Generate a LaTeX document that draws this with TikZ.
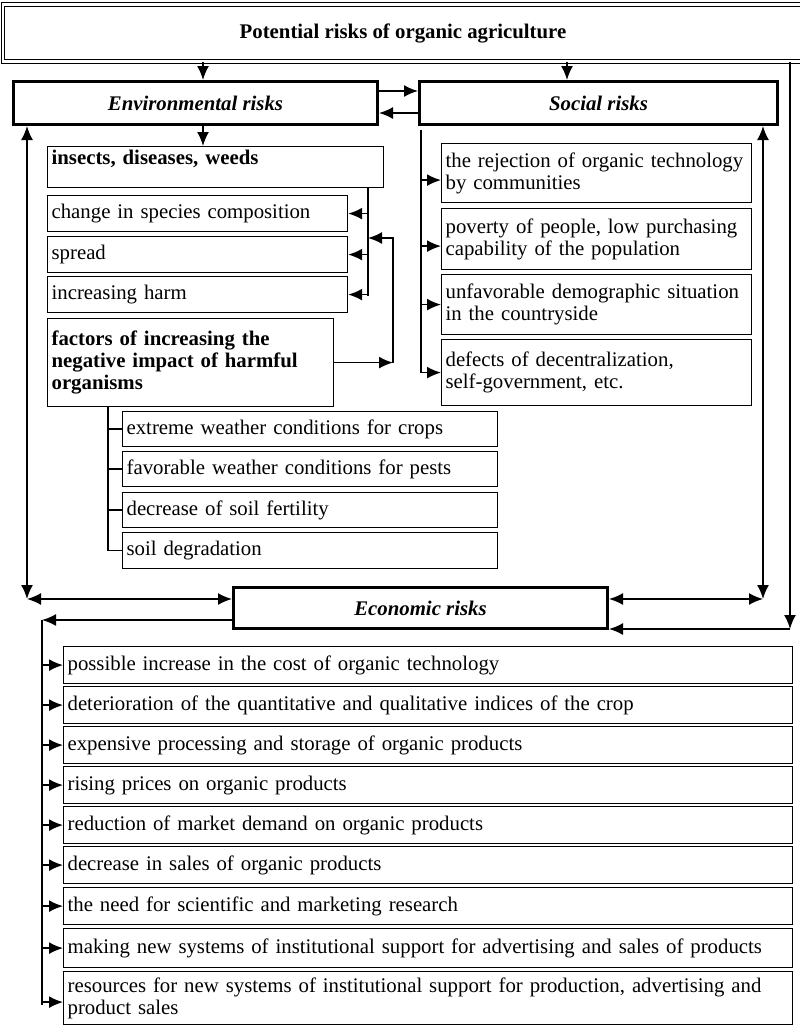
\documentclass[tikz,border=0pt]{standalone}
\usepackage{fontspec}
\setmainfont{Liberation Serif}
\usetikzlibrary{arrows.meta}
\newcommand{\txtsize}{\fontsize{20.8}{22}\selectfont}
\tikzset{
  every node/.style={font=\txtsize},
  topbox/.style={draw, double, double distance=2.5pt, line width=1.2pt, font=\txtsize\bfseries},
  riskbox/.style={draw, line width=3pt, anchor=north west, font=\txtsize\bfseries\itshape},
  item/.style={draw, line width=1.2pt, anchor=north west, inner xsep=4pt, inner ysep=0pt, align=left},
  conn/.style={line width=1.7pt},
  arr/.style={conn, -{Latex[length=14pt,width=12pt]}},
  darr/.style={conn, {Latex[length=14pt,width=12pt]}-{Latex[length=14pt,width=12pt]}}
}

\begin{document}
\begin{tikzpicture}[x=1pt,y=-1pt]
\useasboundingbox (0,0) rectangle (800,1026);
\node[topbox, minimum width=800pt, minimum height=57pt] (top) at (403,33) {Potential risks of organic agriculture};
\node[riskbox, minimum width=364pt, minimum height=43pt] (env) at (12,80) {Environmental risks}; %main risks
\node[riskbox, minimum width=358pt, minimum height=43pt] (soc) at (418,80) {Social risks};
\node[riskbox, minimum width=374pt, minimum height=41pt] (econ) at (232,586) {Economic risks};
\node[item, text width=328pt, text height=15pt, text depth=20pt, inner ysep=3pt, font=\txtsize\bfseries] (ins) at (47,146) {insects, diseases, weeds}; %environmental list
\node[item, text width=292pt, minimum height=36pt] (spc) at (47,195) {change in species composition};
\node[item, text width=292pt, minimum height=36pt] (spr) at (47,236) {spread};
\node[item, text width=292pt, minimum height=36pt] (hrm) at (47,276) {increasing harm};
\node[item, text width=278pt, minimum height=88pt, font=\txtsize\bfseries] (fac) at (47,318) {factors of increasing the\\negative impact of harmful\\organisms};
\node[item, text width=367pt, minimum height=35pt] (fd1) at (122,411) {extreme weather conditions for crops}; %factors
\node[item, text width=367pt, minimum height=35pt] (fd2) at (122,451) {favorable weather conditions for pests};
\node[item, text width=367pt, minimum height=35pt] (fd3) at (122,492) {decrease of soil fertility};
\node[item, text width=367pt, minimum height=36pt] (fd4) at (122,532) {soil degradation};
\node[item, text width=302pt, minimum height=59pt] (sd1) at (441,143) {the rejection of organic technology\\by communities}; %social list
\node[item, text width=302pt, minimum height=61pt] (sd2) at (441,208) {poverty of people, low purchasing\\capability of the population};
\node[item, text width=302pt, minimum height=60pt] (sd3) at (441,274) {unfavorable demographic situation\\in the countryside};
\node[item, text width=302pt, minimum height=66pt] (sd4) at (441,339) {defects of decentralization,\\self-government, etc.};
\node[item, text width=721pt, minimum height=37pt] (ec1) at (63,646) {possible increase in the cost of organic technology}; %economic list
\node[item, text width=721pt, minimum height=37pt] (ec2) at (63,686) {deterioration of the quantitative and qualitative indices of the crop};
\node[item, text width=721pt, minimum height=37pt] (ec3) at (63,726) {expensive processing and storage of organic products};
\node[item, text width=721pt, minimum height=37pt] (ec4) at (63,766) {rising prices on organic products};
\node[item, text width=721pt, minimum height=37pt] (ec5) at (63,806) {reduction of market demand on organic products};
\node[item, text width=721pt, minimum height=37pt] (ec6) at (63,846) {decrease in sales of organic products};
\node[item, text width=721pt, minimum height=37pt] (ec7) at (63,887) {the need for scientific and marketing research};
\node[item, text width=721pt, minimum height=39pt] (ec8) at (63,928) {making new systems of institutional support for advertising and sales of products};
\node[item, text width=721pt, minimum height=53pt] (ec9) at (63,971) {resources for new systems of institutional support for production, advertising and\\product sales};
\coordinate (ex) at (203,0); %connectors
\coordinate (sx) at (567,0);
\coordinate (ey1) at (0,91);
\coordinate (ey2) at (0,113);
\draw[arr] (top.south -| ex) -- (env.north -| ex);
\draw[arr] (top.south -| sx) -- (soc.north -| sx);
\draw[arr] (env.east |- ey1) -- (soc.west |- ey1);
\draw[arr] (soc.west |- ey2) -- (env.east |- ey2);
\draw[arr] (env.south -| ex) -- (ins.north -| ex);
\coordinate (ib) at (368,296);
\draw[conn] (ins.south -| ib) -- (ib);
\draw[arr] (spc.east -| ib) -- (spc.east);
\draw[arr] (spr.east -| ib) -- (spr.east);
\draw[arr] (hrm.east -| ib) -- (hrm.east);
\coordinate (fl) at (393,238);
\draw[arr] (fac.east) -- (fac.east -| fl);
\draw[arr] (fac.east -| fl) -- (fl) -- (ib |- fl);
\coordinate (fb) at (108,0);
\draw[conn] (fac.south -| fb) -- (fd4.west -| fb) -- (fd4.west);
\draw[conn] (fd1.west -| fb) -- (fd1.west);
\draw[conn] (fd2.west -| fb) -- (fd2.west);
\draw[conn] (fd3.west -| fb) -- (fd3.west);
\coordinate (sb) at (421,130);
\draw[conn] (sb) -- (sd4.west -| sb);
\draw[arr] ([yshift=-7pt]sd1.west -| sb) -- ([yshift=-7pt]sd1.west);
\draw[arr] ([yshift=-7pt]sd2.west -| sb) -- ([yshift=-7pt]sd2.west);
\draw[arr] (sd3.west -| sb) -- (sd3.west);
\draw[arr] (sd4.west -| sb) -- (sd4.west);
\coordinate (lc) at (27,599);
\coordinate (rc) at (763,599);
\coordinate (fr) at (790,629);
\draw[darr] (env.south -| lc) -- (lc);
\draw[darr] (lc) -- (econ.west |- lc);
\draw[darr] (soc.south -| rc) -- (rc);
\draw[darr] (econ.east |- rc) -- (rc);
\draw[arr] (top.south -| fr) -- (fr);
\draw[arr] (fr) -- (econ.east |- fr);
\coordinate (eb) at (42,620);
\draw[arr] (econ.west |- eb) -- (eb);
\draw[conn] (eb) -- ([yshift=-7pt]ec9.west -| eb);
\draw[arr] (ec1.west -| eb) -- (ec1.west);
\draw[arr] (ec2.west -| eb) -- (ec2.west);
\draw[arr] (ec3.west -| eb) -- (ec3.west);
\draw[arr] (ec4.west -| eb) -- (ec4.west);
\draw[arr] (ec5.west -| eb) -- (ec5.west);
\draw[arr] (ec6.west -| eb) -- (ec6.west);
\draw[arr] (ec7.west -| eb) -- (ec7.west);
\draw[arr] (ec8.west -| eb) -- (ec8.west);
\draw[arr] ([yshift=-4pt]ec9.west -| eb) -- ([yshift=-4pt]ec9.west);
\end{tikzpicture}
\end{document}
